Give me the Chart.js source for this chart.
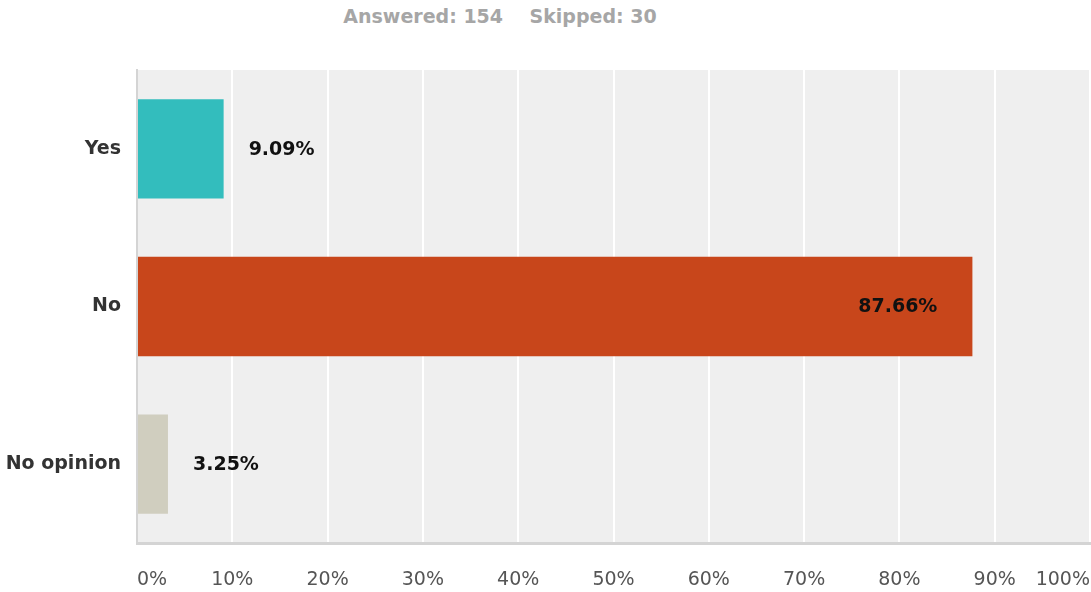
<!DOCTYPE html>
<html>
<head>
<meta charset="utf-8">
<script src="https://cdn.jsdelivr.net/npm/chart.js@4.4.1/dist/chart.umd.min.js"></script>
<style>
  html, body { margin: 0; padding: 0; background: #ffffff; }
  #wrap { position: relative; width: 1091px; height: 592px; }
  #summary { position: absolute; top: 5px; left: 300px; width: 400px; text-align: center;
    font-family: "DejaVu Sans", sans-serif; font-weight: bold; font-size: 19px;
    color: #a6a6a6; white-space: pre; }
  canvas { position: absolute; left: 0; top: 0; }
</style>
</head>
<body>
<div id="wrap">
  <div id="summary">Answered: 154    Skipped: 30</div>
  <canvas id="c" width="1091" height="592"></canvas>
</div>
<script>
const categories = ["Yes", "No", "No opinion"];
const values = [9.09, 87.66, 3.25];
const barColors = ["#33bdbd", "#c8461b", "#d0cebf"];
const tickValues = [0, 10, 20, 30, 40, 50, 60, 70, 80, 90, 100];

const plotBg = {
  id: 'plotBg',
  beforeDraw(chart) {
    const a = chart.chartArea, ctx = chart.ctx;
    ctx.save();
    ctx.fillStyle = '#efefef';
    ctx.fillRect(a.left, a.top, a.right - a.left, a.bottom - a.top);
    ctx.restore();
  }
};

const valueLabels = {
  id: 'valueLabels',
  afterDatasetsDraw(chart) {
    const ctx = chart.ctx;
    const meta = chart.getDatasetMeta(0);
    ctx.save();
    ctx.font = 'bold 19px "DejaVu Sans", sans-serif';
    ctx.fillStyle = '#111111';
    ctx.textBaseline = 'middle';
    meta.data.forEach((bar, i) => {
      const v = values[i];
      const txt = v.toFixed(2) + '%';
      if (v > 50) {
        ctx.textAlign = 'right';
        ctx.fillText(txt, bar.x - 35, bar.y + 1);
      } else {
        ctx.textAlign = 'left';
        ctx.fillText(txt, bar.x + 25, bar.y + 1);
      }
    });
    ctx.restore();
  }
};

new Chart(document.getElementById('c'), {
  type: 'bar',
  data: {
    labels: categories,
    datasets: [{
      data: values,
      backgroundColor: barColors,
      borderColor: barColors,
      borderWidth: 0,
      barPercentage: 0.63,
      categoryPercentage: 1.0
    }]
  },
  options: {
    indexAxis: 'y',
    responsive: false,
    animation: false,
    devicePixelRatio: 1,
    layout: { padding: { top: 70, right: 1, left: 0, bottom: 0 } },
    plugins: {
      legend: { display: false },
      tooltip: { enabled: false },
      title: { display: false }
    },
    scales: {
      x: {
        min: 0, max: 100,
        afterBuildTicks(scale) { scale.ticks = tickValues.map(v => ({ value: v })); },
        afterFit(scale) { scale.height = 49; scale.paddingLeft = 0; scale.paddingRight = 0; },
        grid: { color: '#ffffff', lineWidth: 2, drawTicks: false },
        border: { display: true, color: '#d4d4d4', width: 3 },
        ticks: {
          align: 'inner',
          padding: 26,
          color: '#555555',
          font: { family: '"DejaVu Sans", sans-serif', size: 19 },
          callback: v => v + '%',
          maxRotation: 0
        }
      },
      y: {
        afterFit(scale) { scale.width = 137; },
        grid: { display: false, drawTicks: false },
        border: { display: true, color: '#d4d4d4', width: 2 },
        ticks: {
          padding: 16,
          color: '#333333',
          font: { family: '"DejaVu Sans", sans-serif', size: 19, weight: 'bold' }
        }
      }
    }
  },
  plugins: [plotBg, valueLabels]
});
</script>
</body>
</html>
